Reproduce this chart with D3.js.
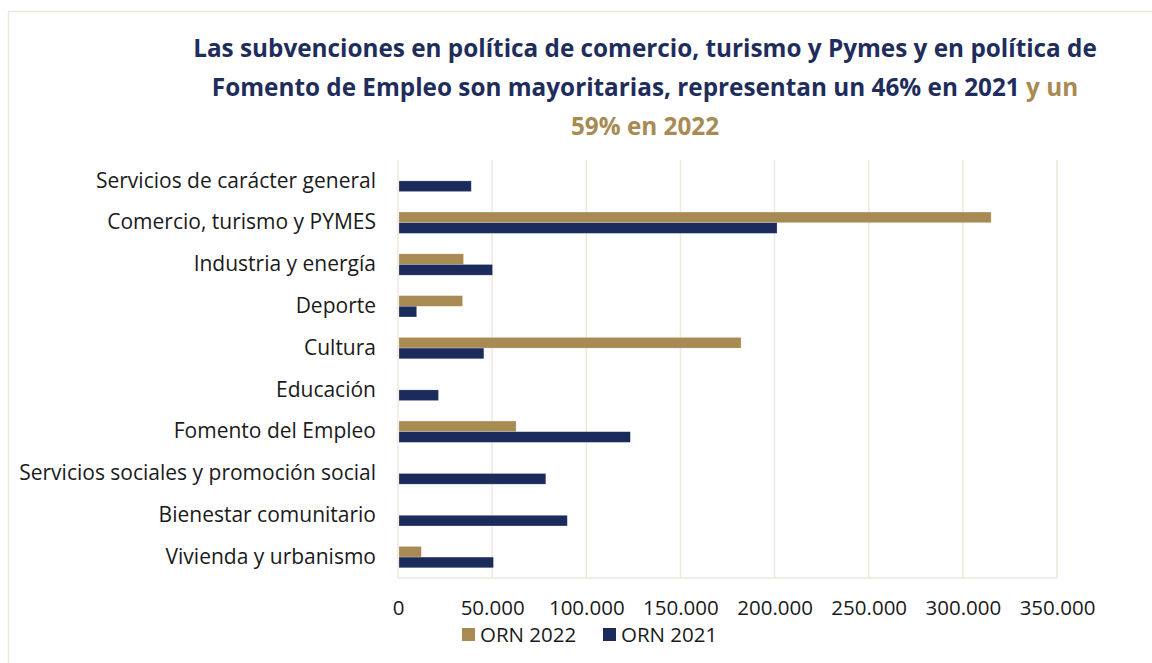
<!DOCTYPE html>
<html>
<head>
<meta charset="utf-8">
<script src="https://cdn.jsdelivr.net/npm/d3@7"></script>
<style>
  body { margin: 0; background: #fff; }
  svg { display: block; }
</style>
</head>
<body>
<div id="chart"></div>
<script>
const categories = [
    "Servicios de carácter general",
    "Comercio, turismo y PYMES",
    "Industria y energía",
    "Deporte",
    "Cultura",
    "Educación",
    "Fomento del Empleo",
    "Servicios sociales y promoción social",
    "Bienestar comunitario",
    "Vivienda y urbanismo",
];

const orn2022 = [0, 315000, 34800, 34300, 182200, 0, 62700, 0, 0, 12400];
const orn2021 = [38900, 201300, 50200, 9900, 45600, 21500, 123400, 78500, 89900, 50700];

const seriesNames = ["ORN 2022", "ORN 2021"];
const tickValues = [0, 50000, 100000, 150000, 200000, 250000, 300000, 350000];

const colors = { "ORN 2022": "#a88a53", "ORN 2021": "#1b2b5b" };
const navy = "#1f2d5c";
const gold = "#a88a53";
const gridColor = "#eee8dc";
const font = "'Open Sans', sans-serif";

const W = 1152, H = 663;
const margin = { top: 160, right: 95, bottom: 85, left: 398 };
const width = W - margin.left - margin.right,
    height = H - margin.top - margin.bottom;

const svg = d3.select("#chart")
    .append("svg")
    .attr("width", W)
    .attr("height", H);

// frame
svg.append("rect")
    .attr("x", 8.5).attr("y", 11.5)
    .attr("width", W + 10).attr("height", H + 10)
    .attr("fill", "none")
    .attr("stroke", gridColor)
    .attr("stroke-width", 1.5);

// title
const title = svg.append("text")
    .attr("text-anchor", "middle")
    .attr("font-family", font)
    .attr("font-weight", "bold")
    .attr("font-size", 24.3)
    .attr("fill", navy);
title.append("tspan").attr("x", 645).attr("y", 57)
    .text("Las subvenciones en política de comercio, turismo y Pymes y en política de");
const l2 = title.append("tspan").attr("x", 645).attr("y", 96);
l2.append("tspan").text("Fomento de Empleo son mayoritarias, representan un 46% en 2021 ");
l2.append("tspan").attr("fill", gold).text("y un");
title.append("tspan").attr("x", 645).attr("y", 135).attr("fill", gold)
    .text("59% en 2022");

const g = svg.append("g")
    .attr("transform", `translate(${margin.left},${margin.top})`);

const x = d3.scaleLinear()
    .domain([0, 350000])
    .range([0, width]);

const y = d3.scaleBand()
    .domain(categories)
    .range([0, height])
    .paddingInner(0.49)
    .paddingOuter(0.245);

const ySub = d3.scaleBand()
    .domain(seriesNames)
    .range([0, y.bandwidth()]);

// gridlines
g.append("g")
    .selectAll("line")
    .data(tickValues)
    .join("line")
    .attr("x1", d => x(d)).attr("x2", d => x(d))
    .attr("y1", 0).attr("y2", height)
    .attr("stroke", gridColor)
    .attr("stroke-width", 1.5);

// baseline
g.append("line")
    .attr("x1", 0).attr("x2", width)
    .attr("y1", height).attr("y2", height)
    .attr("stroke", gridColor)
    .attr("stroke-width", 1.5);

// bars
const rows = categories.map((c, i) => ({ cat: c, values: [
    { name: "ORN 2022", value: orn2022[i] },
    { name: "ORN 2021", value: orn2021[i] },
] }));

g.append("g")
    .selectAll("g")
    .data(rows)
    .join("g")
    .attr("transform", d => `translate(0,${y(d.cat)})`)
    .selectAll("rect")
    .data(d => d.values.filter(v => v.value > 0))
    .join("rect")
    .attr("x", x(0) + 1)
    .attr("y", d => ySub(d.name))
    .attr("width", d => x(d.value) - x(0) - 1)
    .attr("height", ySub.bandwidth())
    .attr("fill", d => colors[d.name])
    .attr("stroke", "#ffffff")
    .attr("stroke-opacity", 0.35)
    .attr("stroke-width", 0.6);

// category axis
const yAxis = g.append("g")
    .call(d3.axisLeft(y).tickSize(0).tickPadding(22));
yAxis.select(".domain").remove();
yAxis.selectAll("text")
    .attr("font-family", font)
    .attr("font-size", 21)
    .attr("fill", "#1a1a1a");

// value axis
const xAxis = g.append("g")
    .attr("transform", `translate(0,${height})`)
    .call(d3.axisBottom(x).tickValues(tickValues).tickSize(0).tickPadding(22)
        .tickFormat(d => d3.format(",")(d).replace(/,/g, ".")));
xAxis.select(".domain").remove();
xAxis.selectAll("text")
    .attr("font-family", font)
    .attr("font-size", 20.5)
    .attr("fill", "#1a1a1a");

// legend
const legend = svg.append("g")
    .attr("font-family", font)
    .attr("font-size", 20.5)
    .attr("fill", "#1a1a1a");
const legendX = [462, 603];
seriesNames.forEach((s, i) => {
    const lg = legend.append("g").attr("transform", `translate(${legendX[i]},628)`);
    lg.append("rect").attr("width", 13).attr("height", 13).attr("fill", colors[s]);
    lg.append("text").attr("x", 18).attr("y", 13.5).text(s);
});
</script>
</body>
</html>
